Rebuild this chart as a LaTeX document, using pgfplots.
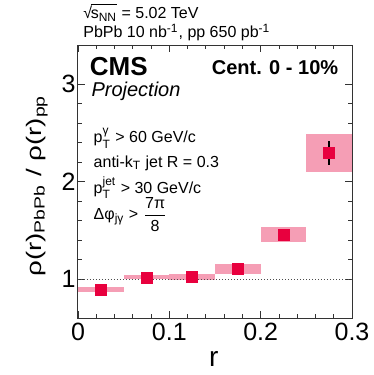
\documentclass[border=0pt]{standalone}
\usepackage{amsmath}
\usepackage{graphicx}
\usepackage{fontspec}
\setmainfont{Liberation Sans}
\usepackage{pgfplots}
\pgfplotsset{compat=1.18}

\definecolor{cmsred}{RGB}{232,0,62}
\definecolor{cmspink}{RGB}{245,158,181}

% radical drawn from the text font so the line box stays low
\newcommand\rootover[1]{\setbox0\hbox{#1}√\kern-0.08em\rlap{\rule[0.86em]{\wd0}{0.35pt}}\box0\relax}

\begin{document}
\begin{tikzpicture}
\useasboundingbox (-39pt,-28.5pt) rectangle (148pt,159pt);

\begin{axis}[
  at={(0pt,0pt)}, anchor=south west,
  scale only axis, width=137pt, height=136.5pt,
  xmin=0, xmax=0.3, ymin=0.6, ymax=3.4,
  xtick={0,0.1,0.2,0.3}, ytick={1,2,3},
  xticklabels={0,0.1,0.2,0.3},
  minor x tick num=4, minor y tick num=4,
  tick align=inside, major tick length=3.5pt, minor tick length=2pt,
  tick style={black!80, line width=0.4pt},
  axis line style={black!80, line width=0.5pt},
  tick label style={font=\fontsize{12.5}{14}\selectfont},
  yticklabel style={inner xsep=1pt},
  xticklabel style={inner ysep=2.5pt},
  /pgf/number format/assume math mode=true,
  xlabel={r},
  ylabel={\scalebox{1.32}[1]{ρ(r)\textsubscript{PbPb} / ρ(r)\textsubscript{pp}}},
  xlabel style={font=\fontsize{14}{16}\selectfont, at={(axis description cs:0.496,-0.150)}, anchor=center},
  ylabel style={font=\fontsize{10.5}{12}\selectfont, at={(axis description cs:-0.150,0.484)}, anchor=center, rotate=0},
  clip=false,
]

% systematic boxes
\addplot[fill=cmspink, draw=none] coordinates {(0,0.863) (0.05,0.863) (0.05,0.917) (0,0.917)} --cycle;
\addplot[fill=cmspink, draw=none] coordinates {(0.05,0.996) (0.1,0.996) (0.1,1.036) (0.05,1.036)} --cycle;
\addplot[fill=cmspink, draw=none] coordinates {(0.1,0.993) (0.15,0.993) (0.15,1.047) (0.1,1.047)} --cycle;
\addplot[fill=cmspink, draw=none] coordinates {(0.15,1.05) (0.2,1.05) (0.2,1.15) (0.15,1.15)} --cycle;
\addplot[fill=cmspink, draw=none] coordinates {(0.2,1.375) (0.25,1.375) (0.25,1.535) (0.2,1.535)} --cycle;
\addplot[fill=cmspink, draw=none] coordinates {(0.25,2.095) (0.3,2.095) (0.3,2.485) (0.25,2.485)} --cycle;

% unity line
\addplot[densely dotted, black!70, line width=0.5pt] coordinates {(0,1) (0.3,1)};

% points
\addplot[only marks, mark=square*, mark size=2.75pt, color=black,
  mark options={draw=cmsred, fill=cmsred},
  error bars/.cd, y dir=both, y explicit,
  error bar style={line width=1pt, black}, error mark=none]
  table[x=x, y=y, y error=e] {
x y e
0.025 0.890 0.015
0.075 1.016 0.015
0.125 1.020 0.015
0.175 1.100 0.02
0.225 1.455 0.03
0.275 2.290 0.124
};

\node[anchor=west, font=\fontsize{8}{9}\selectfont, inner sep=0pt] at (rel axis cs:0.018,1.117) {\rootover{s\textsubscript{NN}} = 5.02 TeV};
\node[anchor=west, font=\fontsize{8}{9}\selectfont, inner sep=0pt] at (rel axis cs:0.018,1.046) {PbPb 10 nb\textsuperscript{-1}, pp 650 pb\textsuperscript{-1}};
\node[anchor=west, font=\fontsize{13}{15}\selectfont\bfseries, inner sep=0pt] at (rel axis cs:0.042,0.921) {CMS};
\node[anchor=west, font=\fontsize{10}{12}\selectfont\itshape, inner sep=0pt] at (rel axis cs:0.048,0.831) {Projection};
\node[anchor=east, font=\fontsize{10}{12}\selectfont\bfseries, inner sep=0pt] at (rel axis cs:0.951,0.916) {Cent. 0 - 10\%};
\node[anchor=west, font=\fontsize{8}{9}\selectfont, inner sep=0pt] at (rel axis cs:0.056,0.659) {p$^{\text{γ}}_{\text{T}}$ > 60 GeV/c};
\node[anchor=west, font=\fontsize{8}{9}\selectfont, inner sep=0pt] at (rel axis cs:0.056,0.568) {anti-k\textsubscript{T} jet R = 0.3};
\node[anchor=west, font=\fontsize{8}{9}\selectfont, inner sep=0pt] at (rel axis cs:0.056,0.478) {p$^{\text{jet}}_{\text{T}}$ > 30 GeV/c};
\node[anchor=west, font=\fontsize{8}{9}\selectfont, inner sep=0pt] at (rel axis cs:0.056,0.378) {Δφ$_{\text{jγ}}$ > $\dfrac{\text{7π}}{\text{8}}$};

\end{axis}
\end{tikzpicture}
\end{document}
